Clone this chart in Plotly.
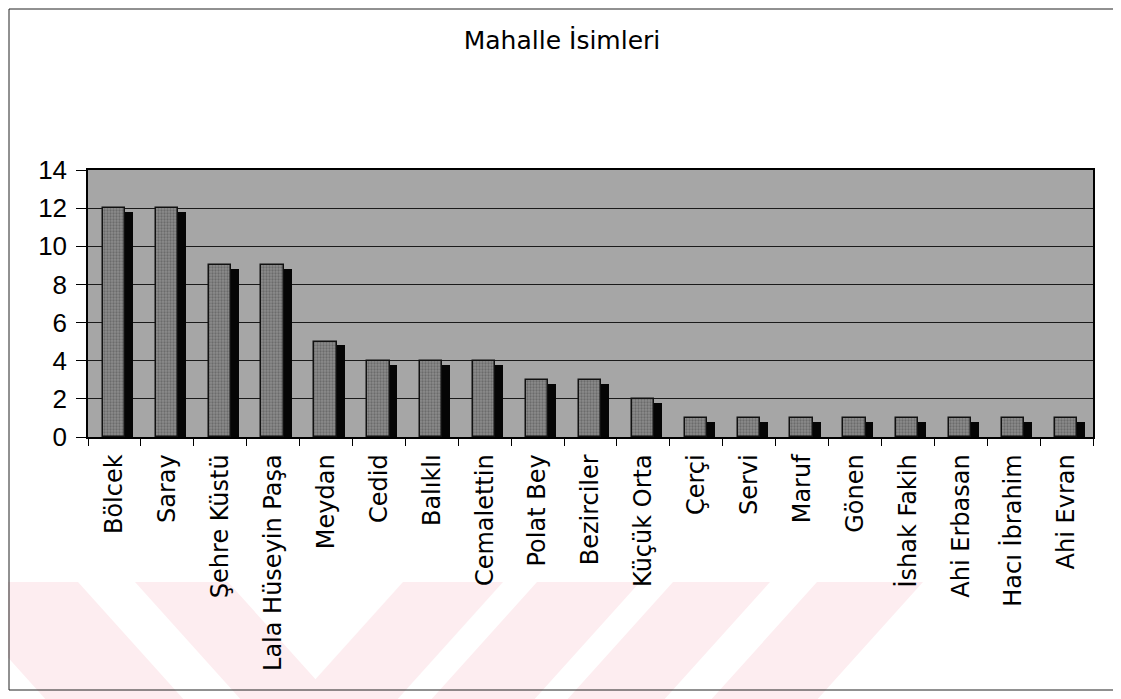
import plotly.graph_objects as go

# Data
mahalleler = [
    "Bölcek", "Saray", "Şehre Küstü", "Lala Hüseyin Paşa", "Meydan", "Cedid",
    "Balıklı", "Cemalettin", "Polat Bey", "Bezirciler", "Küçük Orta", "Çerçi",
    "Servi", "Maruf", "Gönen", "İshak Fakih", "Ahi Erbasan", "Hacı İbrahim",
    "Ahi Evran",
]
sayilar = [12, 12, 9, 9, 5, 4, 4, 4, 3, 3, 2, 1, 1, 1, 1, 1, 1, 1, 1]
y_ticks = [0, 2, 4, 6, 8, 10, 12, 14]

# the page body has an 8px margin, so the figure starts at (8, 8)
OFF = 8
W, H = 1121 - OFF, 699 - OFF
# plot area in screen pixels
PX_L, PX_R, PX_T, PX_B = 88 - OFF, 1093 - OFF, 170 - OFF, 437 - OFF

SIDE_DROP = 0.2  # fake 3D side face sits slightly lower


def px(x):
    """screen x -> paper x"""
    return (x - OFF - PX_L) / (PX_R - PX_L)


def py(y):
    """screen y -> paper y"""
    return (PX_B - (y - OFF)) / (PX_B - PX_T)


fig = go.Figure()

# dark side face (pseudo 3D)
fig.add_trace(go.Bar(
    x=mahalleler,
    y=[v - SIDE_DROP for v in sayilar],
    offset=0.19,
    width=0.16,
    marker=dict(color="#050505", line=dict(width=0)),
    hoverinfo="skip",
    showlegend=False,
))
# front face
fig.add_trace(go.Bar(
    x=mahalleler,
    y=sayilar,
    offset=-0.22,
    width=0.42,
    marker=dict(
        color="#7a7a7a",
        line=dict(color="#111111", width=1.5),
        pattern=dict(shape=".", fgcolor="#4a4a4a", bgcolor="#8c8c8c", size=3, solidity=0.45),
    ),
    showlegend=False,
))

# pale red watermark stripes at the bottom of the page
pink = "#fdedf0"
top_y, bot_y = 582, 705
slope = 0.9
d = slope * (bot_y - top_y)
for x0, x1 in [(-60, 78), (135, 228)]:
    fig.add_shape(type="path", xref="paper", yref="paper", layer="below",
                  path=f"M {px(x0)} {py(top_y)} L {px(x1)} {py(top_y)} "
                       f"L {px(x1 + d)} {py(bot_y)} L {px(x0 + d)} {py(bot_y)} Z",
                  fillcolor=pink, line=dict(width=0))
for x0, x1 in [(403, 503), (537, 640), (673, 770), (817, 923)]:
    fig.add_shape(type="path", xref="paper", yref="paper", layer="below",
                  path=f"M {px(x0)} {py(top_y)} L {px(x1)} {py(top_y)} "
                       f"L {px(x1 - d)} {py(bot_y)} L {px(x0 - d)} {py(bot_y)} Z",
                  fillcolor=pink, line=dict(width=0))

# outer chart border (kept inside the figure)
fig.add_shape(type="rect", xref="paper", yref="paper",
              x0=px(OFF + 1), x1=px(1114), y0=py(690), y1=py(OFF + 1),
              line=dict(color="#222222", width=1))

fig.update_layout(
    width=W,
    height=H,
    barmode="overlay",
    bargap=0,
    plot_bgcolor="#a6a6a6",
    paper_bgcolor="white",
    font=dict(family="DejaVu Sans, Arial, sans-serif", color="black"),
    margin=dict(l=PX_L, r=W - PX_R, t=PX_T, b=H - PX_B),
    title=dict(
        text="Mahalle İsimleri",
        x=(562 - OFF) / W, xref="container", xanchor="center",
        y=1 - (40 - OFF) / H, yref="container", yanchor="middle",
        font=dict(size=25, family="DejaVu Sans, Arial, sans-serif", color="black"),
    ),
    showlegend=False,
)
fig.update_xaxes(
    type="category",
    range=[-0.5, len(mahalleler) - 0.5],
    tickangle=-90,
    tickfont=dict(size=24, family="DejaVu Sans, Arial, sans-serif"),
    ticks="outside",
    tickson="boundaries",
    ticklen=7,
    tickcolor="black",
    showline=True,
    linecolor="black",
    linewidth=1.5,
    mirror=True,
    showgrid=False,
    ticklabelstandoff=6,
)
fig.update_yaxes(
    range=[0, 14],
    tickvals=y_ticks,
    tickfont=dict(size=26, family="Liberation Sans, Arial, sans-serif"),
    ticks="outside",
    ticklen=10,
    tickcolor="black",
    showline=True,
    linecolor="black",
    linewidth=1.5,
    mirror=True,
    showgrid=True,
    gridcolor="#1a1a1a",
    gridwidth=1,
    zeroline=False,
    ticklabelstandoff=4,
)

fig.write_html("out.html")
